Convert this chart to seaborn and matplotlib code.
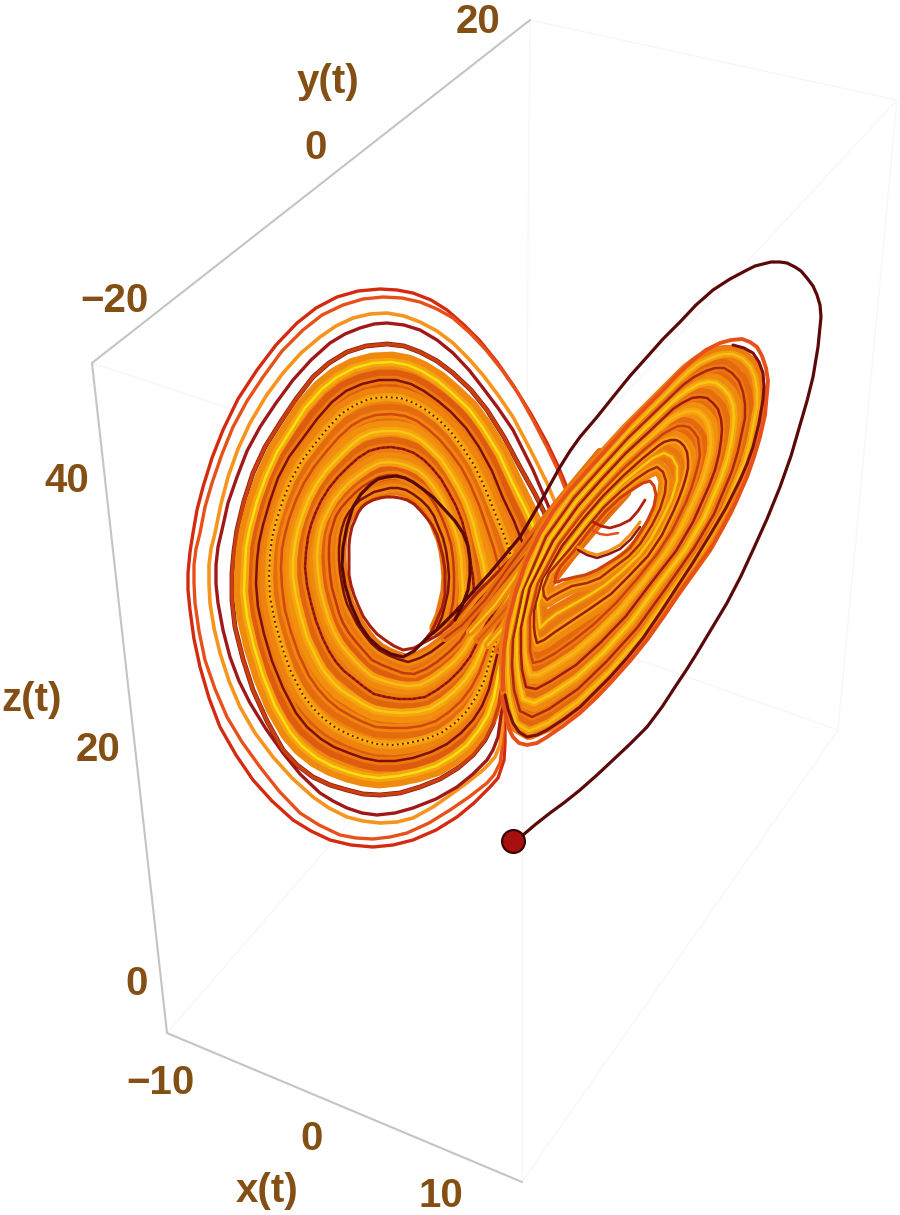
# Lorenz attractor seen in a tilted box (pixel-like units)
import pandas as pd
import matplotlib
matplotlib.use("Agg")
import matplotlib.pyplot as plt
import seaborn as sns

# Box corners
corner_a = (92, 363)
corner_b = (530, 20)
corner_c = (897, 100)
corner_d = (522, 505)
corner_e = (167, 1033)
corner_f = (522, 1182)
corner_g = (838, 730)
corner_h = (525, 620)

# Labels
label_texts = ["20", "y(t)", "0", "\u221220", "40", "z(t)", "20", "0", "\u221210", "0", "x(t)", "10"]
label_x = [478, 328, 316, 114, 67, 32, 98, 137, 160, 312, 267, 441]
label_y = [22, 82, 148, 301, 481, 700, 750, 984, 1083, 1139, 1191, 1196]

# Start of the trajectory
start_x = [513]
start_y = [841]

# Thin free curves around the left lobe
left_free_1 = [(513,620),(509,640),(508,660),(508,693),(505,720),(505,743),(504,760),(498,778),(490,787),(474,803),(457,817),(436,830),(413,840),(393,845),(373,847),(351,845),(330,840),(311,831),(293,820),(272,801),(253,780),(236,755),(220,727),(209,698),(200,667),(194,639),(190,610),(188,590),(188,573),(190,552),(193,533),(197,510),(203,487),(212,458),(223,430),(238,399),(257,370),(276,345),(297,323),(316,308),(337,297),(358,291),(380,289),(397,290),(413,293),(431,300),(447,310),(464,325),(480,341),(497,362),(513,385),(531,414),(547,443),(558,466),(568,490)]
left_free_2 = [(510,640),(507,660),(506,680),(503,710),(503,733),(502,750),(500,763),(494,775),(487,783),(469,797),(450,810),(429,823),(407,833),(390,837),(373,839),(356,838),(340,835),(319,825),(300,813),(279,791),(260,767),(242,742),(227,717),(215,689),(205,660),(199,631),(195,603),(194,583),(194,565),(196,549),(200,533),(205,507),(212,483),(222,454),(233,427),(247,401),(263,377),(282,351),(303,330),(322,315),(343,305),(363,299),(383,297),(402,298),(420,302),(437,309),(453,318),(470,333),(486,350),(502,370),(518,393),(533,420),(547,447),(557,468),(565,488)]
left_free_3 = [(506,660),(504,685),(503,707),(502,730),(500,745),(495,757),(489,764),(483,770),(468,782),(453,793),(433,807),(413,818),(397,822),(380,823),(363,821),(347,817),(329,808),(313,797),(292,778),(273,757),(255,733),(240,707),(229,681),(220,653),(214,628),(210,603),(209,584),(209,565),(211,549),(215,533),(221,504),(228,477),(238,449),(250,423),(266,396),(283,373),(301,353),(320,337),(336,326),(353,318),(370,314),(387,313),(404,316),(420,322),(437,331),(453,343),(468,358),(483,375),(498,395),(513,417),(531,451),(547,483),(557,507)]
left_free_4 = [(505,660),(503,685),(502,707),(500,723),(498,737),(493,750),(487,760),(473,774),(457,787),(436,799),(413,808),(395,813),(377,815),(362,813),(347,808),(333,801),(320,793),(300,774),(283,753),(266,729),(250,703),(239,681),(230,657),(223,630),(218,603),(216,584),(216,565),(218,547),(222,530),(228,503),(237,477),(247,451),(260,427),(276,403),(293,380),(311,360),(330,343),(345,334),(360,328),(374,324),(387,323),(404,325),(420,330),(437,340),(453,353),(469,370),(483,388),(498,408),(513,430),(533,470),(550,510)]

# Rings of the left lobe, from the outer edge of the band to the hole
left_ring_0 = [(518,600),(510,630),(504,665),(499,705),(493,724),(485,740),(473,755),(458,768),(440,779),(420,787),(400,793),(380,795),(363,794),(347,790),(330,785),(313,777),(297,765),(283,750),(267,721),(253,690),(243,659),(235,627),(232,600),(232,573),(234,551),(237,530),(244,501),(253,473),(265,447),(280,423),(296,399),(313,377),(329,363),(347,352),(366,346),(387,344),(404,346),(420,352),(437,361),(453,373),(471,390),(487,410),(504,437),(520,467),(535,494),(548,520)]
left_ring_1 = [(522,590),(510,623),(501,658),(494,697),(488,715),(479,730),(467,745),(453,756),(436,766),(417,772),(398,776),(379,778),(363,776),(348,772),(332,766),(317,758),(302,746),(290,732),(275,706),(263,676),(254,647),(247,617),(244,592),(245,567),(246,547),(250,527),(257,501),(266,476),(277,452),(291,430),(305,408),(322,389),(337,377),(354,368),(373,363),(392,362),(408,365),(422,371),(438,381),(452,393),(469,409),(483,428),(499,454),(512,482),(525,508),(536,532)]
left_ring_2 = [(526,581),(510,616),(498,651),(489,689),(482,706),(473,720),(461,733),(447,744),(431,752),(413,758),(395,761),(378,761),(363,758),(349,753),(334,747),(321,739),(307,727),(296,713),(283,688),(272,661),(264,634),(258,607),(256,584),(257,561),(259,543),(263,525),(270,501),(278,478),(289,457),(303,438),(317,419),(332,402),(346,391),(362,384),(379,380),(396,380),(411,384),(424,391),(438,401),(451,412),(466,428),(479,447),(492,471),(503,498),(514,521),(523,544)]
left_ring_3 = [(531,572),(510,609),(495,644),(484,681),(476,697),(467,711),(455,723),(441,733),(426,739),(409,743),(393,745),(377,744),(363,740),(350,735),(336,728),(324,719),(313,708),(303,695),(291,672),(282,647),(275,622),(270,597),(269,576),(270,555),(272,538),(276,522),(283,500),(291,480),(301,462),(314,445),(327,429),(341,414),(355,405),(369,399),(385,397),(400,398),(414,403),(426,410),(439,420),(451,432),(463,448),(474,465),(485,488),(495,513),(504,535),(511,556)]
left_ring_4 = [(535,562),(510,602),(492,637),(479,673),(471,688),(461,701),(449,712),(436,721),(421,726),(406,728),(391,728),(376,727),(363,722),(351,716),(339,709),(328,700),(318,689),(309,676),(299,655),(291,632),(285,610),(282,587),(281,568),(282,549),(285,534),(289,519),(296,500),(304,483),(314,467),(325,453),(338,438),(351,426),(363,419),(376,415),(391,414),(405,416),(417,421),(428,429),(440,440),(450,452),(461,467),(470,484),(479,505),(487,528),(494,549),(499,568)]
left_ring_5 = [(539,552),(510,595),(490,630),(475,665),(466,679),(455,691),(443,701),(430,709),(416,712),(402,713),(388,712),(375,710),(363,704),(352,697),(341,690),(332,681),(323,670),(316,657),(307,638),(301,617),(296,597),(293,577),(293,560),(295,543),(298,529),(302,516),(308,500),(316,485),(325,472),(336,460),(348,448),(360,438),(371,433),(383,431),(397,431),(410,434),(421,440),(430,448),(441,459),(449,471),(458,486),(466,502),(473,522),(478,543),(483,562),(486,580)]
left_ring_6 = [(543,543),(510,588),(487,623),(470,657),(460,670),(449,681),(437,690),(425,697),(412,699),(399,699),(386,697),(374,694),(364,687),(354,679),(344,671),(336,662),(329,651),(323,639),(316,621),(311,603),(307,585),(305,567),(306,552),(308,537),(311,525),(315,514),(321,501),(329,488),(338,477),(348,467),(358,458),(369,451),(380,448),(391,447),(403,449),(414,453),(424,460),(432,468),(441,479),(448,491),(456,506),(462,521),(467,540),(470,559),(473,576),(474,592)]
left_ring_7 = [(547,533),(510,581),(484,616),(465,649),(455,661),(443,671),(432,679),(420,685),(407,686),(395,684),(384,681),(373,677),(364,670),(355,661),(347,652),(340,643),(334,632),(329,620),(324,604),(320,588),(318,572),(317,557),(318,544),(320,531),(323,521),(328,511),(334,500),(342,490),(350,482),(359,475),(369,468),(379,463),(389,462),(398,463),(409,466),(419,471),(427,478),(434,487),(441,498),(447,511),(453,525),(458,540),(461,557),(462,574),(463,590),(462,604)]
left_ring_8 = [(552,524),(510,574),(481,609),(460,641),(449,652),(437,662),(426,669),(414,674),(403,673),(392,669),(382,665),(372,660),(364,651),(356,642),(349,633),(343,623),(339,613),(336,602),(332,588),(330,574),(329,560),(329,547),(330,536),(333,525),(336,516),(341,508),(348,500),(355,493),(362,487),(370,482),(379,477),(388,475),(397,475),(405,478),(414,483),(423,489),(430,497),(436,506),(442,518),(447,531),(451,544),(453,558),(454,574),(454,589),(453,603),(450,616)]
left_ring_9 = [(556,514),(510,567),(478,602),(455,633),(443,643),(431,652),(420,658),(408,662),(398,659),(388,655),(379,650),(371,643),(364,634),(357,624),(352,614),(347,604),(344,594),(342,584),(340,572),(339,560),(339,548),(340,537),(342,528),(345,519),(349,512),(354,506),(360,500),(367,496),(374,492),(382,490),(390,488),(398,488),(406,490),(413,494),(421,500),(428,507),(434,516),(438,526),(443,538),(446,550),(448,564),(449,577),(448,592),(445,605),(442,617),(437,628)]
left_ring_10 = [(560,505),(510,560),(475,595),(450,625),(438,635),(425,642),(414,648),(403,650),(394,646),(385,640),(377,634),(370,626),(363,616),(358,605),(354,595),(351,585),(349,575),(349,565),(349,555),(349,545),(350,536),(352,527),(355,520),(358,513),(362,507),(367,503),(373,500),(380,498),(386,497),(393,497),(400,498),(407,500),(414,504),(420,510),(426,517),(432,525),(437,535),(440,545),(443,557),(445,570),(445,582),(445,595),(442,608),(437,620),(432,631),(425,640)]

# Strands that run from the left lobe up into the right one
bundle_1 = [(445,638),(462,625),(485,600),(510,565),(540,525),(570,488),(600,452)]
bundle_2 = [(470,632),(495,605),(520,570),(549,532),(578,497),(608,462)]
bundle_3 = [(478,640),(503,612),(529,576),(557,540),(585,506),(615,472)]
bundle_4 = [(488,645),(512,618),(537,584),(565,548),(592,515),(622,482)]
bundle_5 = [(498,650),(520,625),(545,591),(572,556),(598,525),(627,493)]

# Rings of the right lobe, from the outer edge of the band to the hole
right_outer_1 = [(503,690),(503,670),(504,650),(508,622),(515,595),(526,562),(540,533),(554,510),(570,490),(597,460),(630,423),(663,390),(678,374),(693,360),(706,350),(720,343),(731,340),(742,339),(750,342),(757,347),(762,356),(766,368),(768,381),(767,393),(765,415),(760,437),(754,457),(747,477),(736,502),(723,527),(713,545),(697,568),(680,592),(664,616),(647,640),(630,661),(613,680),(597,697),(580,713),(563,726),(547,737),(537,743),(527,745),(519,743),(513,737),(509,729),(507,720),(504,708),(502,697)]
right_outer_2 = [(733,345),(744,348),(753,353),(759,362),(763,373),(764,386),(763,400),(759,423),(753,447),(747,464),(740,480),(726,508),(710,535),(694,561),(677,587),(660,613),(643,638),(627,658),(610,677),(595,692),(580,707),(564,719),(547,730),(537,735),(527,737),(519,732),(513,723),(508,709),(505,695)]
right_ring_1 = [(508,673),(508,645),(519,593),(543,535),(572,494),(598,465),(629,431),(660,400),(688,372),(700,363),(713,357),(723,354),(733,354),(742,358),(750,366),(755,377),(757,391),(757,406),(754,421),(750,442),(744,463),(725,509),(704,547),(673,590),(642,634),(610,671),(579,701),(548,723),(529,731),(516,723),(510,700)]
right_ring_2 = [(512,666),(513,639),(523,591),(546,537),(574,498),(599,470),(628,438),(657,410),(683,385),(694,377),(706,371),(715,368),(724,368),(732,373),(739,381),(743,392),(745,404),(745,418),(742,432),(738,451),(732,471),(714,514),(694,548),(666,588),(637,628),(607,661),(578,689),(549,709),(532,717),(520,711),(514,690)]
right_ring_3 = [(517,660),(517,634),(526,589),(550,539),(576,502),(599,476),(627,446),(654,420),(678,397),(688,390),(699,384),(708,382),(716,383),(723,388),(729,395),(733,405),(734,416),(733,429),(731,443),(727,460),(721,478),(704,518),(685,550),(658,585),(631,622),(604,652),(577,677),(550,695),(534,703),(523,699),(519,680)]
right_ring_4 = [(521,653),(521,628),(530,587),(553,541),(578,506),(600,481),(626,453),(651,430),(673,409),(682,403),(692,398),(700,397),(707,398),(713,403),(718,409),(721,419),(722,429),(721,441),(719,454),(715,470),(709,486),(693,522),(676,551),(651,583),(626,616),(601,642),(576,665),(551,681),(536,689),(526,687),(522,670)]
right_ring_5 = [(525,646),(525,622),(534,585),(556,542),(580,510),(601,486),(625,460),(648,440),(668,421),(676,416),(685,412),(692,411),(698,412),(704,417),(708,423),(710,432),(711,442),(710,453),(707,465),(703,479),(697,494),(682,526),(666,552),(644,581),(621,609),(597,633),(575,652),(552,667),(538,675),(530,675),(526,660)]
right_ring_6 = [(530,639),(530,617),(538,583),(559,544),(582,514),(602,491),(624,468),(645,449),(663,434),(670,430),(678,426),(684,426),(689,427),(694,432),(698,438),(699,446),(700,455),(698,465),(695,476),(691,489),(686,502),(672,531),(657,554),(637,579),(616,603),(594,624),(574,640),(554,654),(541,661),(533,663),(530,651)]
right_ring_7 = [(534,627),(534,611),(542,581),(562,546),(584,518),(603,496),(623,476),(642,459),(658,446),(664,442),(671,440),(676,440),(680,442),(684,446),(687,452),(688,460),(688,468),(686,477),(683,487),(679,498),(674,510),(662,535),(648,556),(630,575),(611,594),(591,608),(573,620),(555,632),(544,640),(537,643),(535,635)]
right_ring_8 = [(539,618),(538,604),(545,579),(566,548),(586,522),(603,502),(622,483),(639,469),(653,458),(664,453),(672,457),(677,466),(677,480),(672,498),(663,517),(651,539),(639,555),(622,571),(605,585),(588,596),(572,605),(556,614),(546,622),(540,628)]
right_ring_9 = [(544,596),(543,588),(549,573),(569,550),(588,526),(604,507),(621,491),(636,479),(648,471),(657,467),(663,472),(666,481),(665,493),(660,509),(652,525),(640,544),(629,556),(613,568),(600,578),(587,583),(572,586),(560,592),(551,597),(547,600)]
right_ring_10 = [(555,582),(556,575),(560,567),(573,552),(590,530),(605,512),(620,498),(633,489),(643,483),(650,481),(654,486),(656,495),(654,506),(648,520),(640,533),(630,548),(620,556),(610,562),(597,570),(585,575),(575,577),(567,579),(562,580),(558,582)]

# Short arcs that cross the right hole
hole_arc_1 = [(593,522),(601,526),(610,528),(620,525),(630,520),(638,511),(645,500)]
hole_arc_2 = [(592,530),(600,534),(607,535),(618,533)]
hole_arc_3 = [(578,547),(587,552),(597,555),(609,551),(620,545),(631,534),(640,522)]
hole_arc_4 = [(578,550),(587,555),(597,558),(609,554),(620,549),(631,539),(640,527)]

# Long dark curve from the start point
start_curve = [(513,841),(523,835),(536,824),(550,813),(565,802),(580,790),(597,775),(613,760),(630,744),(647,727),(662,707),(675,687),(687,669),(697,653),(712,628),(727,603),(741,576),(753,550),(767,519),(780,487),(791,456),(800,425),(807,401),(813,377),(818,347),(821,317),(820,305),(817,295),(813,286),(807,278),(801,271),(795,267),(787,263),(780,262),(771,262),(763,264),(755,266),(747,270),(730,279),(713,290),(696,305),(680,322),(663,339),(647,357),(630,376),(613,397),(597,417),(580,437),(570,451),(560,467),(550,485),(540,503),(530,520),(520,537),(505,555),(490,573),(472,593),(455,612),(440,627),(425,640),(414,651),(403,657),(391,654),(380,648),(369,638),(360,625),(351,605),(345,585),(342,566),(343,547),(347,526),(353,507),(361,494),(370,485),(378,479),(387,477),(396,476),(405,478),(413,482),(420,487),(433,497),(445,510),(455,521),(463,533),(468,546),(470,560),(470,575),(468,590),(462,606),(455,620)]

left_rings = [left_ring_1, left_ring_2, left_ring_3, left_ring_4, left_ring_5, left_ring_6, left_ring_7, left_ring_8, left_ring_9]
right_rings = [right_ring_1, right_ring_2, right_ring_3, right_ring_4, right_ring_5, right_ring_6, right_ring_7, right_ring_8, right_ring_9]
bundles = [bundle_1, bundle_2, bundle_3, bundle_4, bundle_5]

# Colours
left_base = ["#f08a0e", "#dd5c0e", "#ee840e", "#e46c0e", "#f2900e", "#e0660e", "#f08a0e", "#de5e0e", "#ea760e"]
left_mid = ["#f7a410", "#ee7a0e", "#f69c10", "#f0860e", "#f8a410", "#ee7c0e", "#f69c10", "#f0800e", "#f08a0e"]
left_thin = ["#f6e010", "#7d0f0c", "#f8c014", "#d0480e", "#f5c812", "#9c1c0e", "#f8bc14", "#c0380e", "#7d0f0c"]
right_base = ["#ec7c0e", "#e4680e", "#f08a0e", "#e66e0e", "#f2900e", "#e4680e", "#f08a0e", "#ea760e", "#ee840e"]
right_mid = ["#f59c10", "#ee7a0e", "#f7a410", "#ee7c0e", "#f7a210", "#ee7c0e", "#f7a210", "#f0860e", "#f69c10"]
right_thin = ["#f3bf12", "#a8280e", "#f6c810", "#9c1c0e", "#f9b514", "#c8400e", "#9c1c0e", "#f6c810", "#a8280e"]
bundle_base = ["#e66e0e", "#f08a0e", "#ea760e", "#f2900e", "#e66e0e"]
bundle_thin = ["#c0380e", "#f7c814", "#d8580e", "#f5c812", "#d0480e"]
brown = "#844f14"
box_dark = "#c4c4c4"
box_faint = "#f7f7f7"

sns.set_theme(style="white")
plt.rcParams["font.family"] = ["Liberation Sans", "DejaVu Sans"]

fig, ax = plt.subplots(figsize=(9, 12.15), dpi=100)
fig.subplots_adjust(left=0, right=1, bottom=0, top=1)


def draw_curve(points, color, width, line="-"):
    frame = pd.DataFrame(points, columns=["x", "y"])
    sns.lineplot(data=frame, x="x", y="y", sort=False, estimator=None, errorbar=None,
                 color=color, linewidth=width, linestyle=line, ax=ax, legend=False,
                 solid_joinstyle="round", solid_capstyle="round")


# Box edges
for pair in [(corner_b, corner_c), (corner_c, corner_g), (corner_a, corner_d), (corner_d, corner_c),
             (corner_d, corner_f), (corner_f, corner_g), (corner_g, corner_h), (corner_h, corner_b),
             (corner_h, corner_e)]:
    draw_curve(list(pair), box_faint, 1.0)
for pair in [(corner_a, corner_b), (corner_a, corner_e), (corner_e, corner_f)]:
    draw_curve(list(pair), box_dark, 1.5)

# Left lobe
draw_curve(left_free_1, "#d42a10", 2.4)
draw_curve(left_free_2, "#e8501a", 2.4)
draw_curve(left_free_3, "#f7941d", 2.6)
draw_curve(left_free_4, "#a01818", 2.4)

draw_curve(left_ring_0, "#8c160e", 3.5)
for i, ring in enumerate(left_rings):
    draw_curve(ring, left_base[i], 11 if i == 8 else 15)
draw_curve(left_ring_0, "#c8400e", 2.5)
for i, ring in enumerate(left_rings):
    draw_curve(ring, left_mid[i], 6)
for i, ring in enumerate(left_rings):
    draw_curve(ring, left_thin[i], 1.8)
draw_curve(left_rings[2], "#7d0f0c", 1.4, ":")
draw_curve(left_rings[5], "#7d0f0c", 1.4, ":")
draw_curve(left_ring_10, "#a8200e", 2.2)

# Strands crossing to the right lobe
for i, strand in enumerate(bundles):
    draw_curve(strand, bundle_base[i], 6)
for i, strand in enumerate(bundles):
    draw_curve(strand, bundle_thin[i], 1.5)

# Right lobe, rings are closed at their left tip
for i, ring in enumerate(right_rings):
    draw_curve(ring + ring[:1], right_base[i], 11 if i == 8 else 13)
for i, ring in enumerate(right_rings):
    draw_curve(ring + ring[:1], right_mid[i], 5)
for i, ring in enumerate(right_rings):
    draw_curve(ring + ring[:1], right_thin[i], 1.8)
draw_curve(right_ring_10 + right_ring_10[:1], "#d0400e", 2.2)
draw_curve(hole_arc_1, "#b0200e", 2.0)
draw_curve(hole_arc_2, "#e8501a", 1.8)
draw_curve(hole_arc_3, "#f29010", 2.2)
draw_curve(hole_arc_4, "#8c160e", 1.8)
draw_curve(right_outer_1, "#e8501a", 2.8)
draw_curve(right_outer_2, "#7d0f0c", 2.2)

# Long curve and its starting ball
draw_curve(start_curve, "#5a0808", 2.3)
sns.scatterplot(x=start_x, y=start_y, s=270, color="#a80f0f", edgecolor="#3a0404", linewidth=1.6, ax=ax, zorder=5)

for text, x, y in zip(label_texts, label_x, label_y):
    ax.text(x, y, text, color=brown, fontsize=29, fontweight="bold", ha="center", va="center")

ax.set_xlim(0, 900)
ax.set_ylim(1215, 0)
ax.axis("off")

fig.savefig("out.png", dpi=100, facecolor="white")
